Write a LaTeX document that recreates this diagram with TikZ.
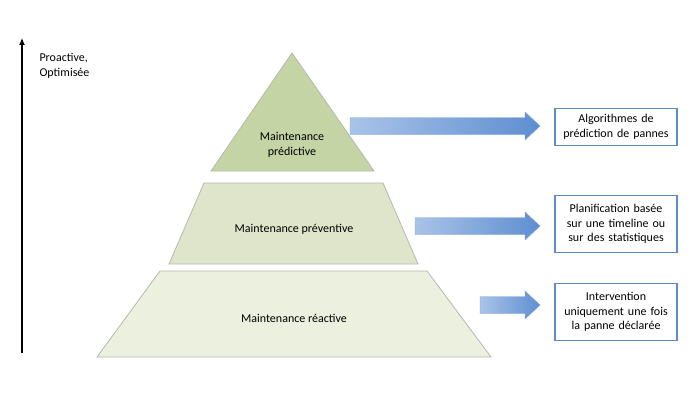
\documentclass[tikz,border=0pt]{standalone}
\usepackage{fontspec}
\setmainfont{Carlito}
\usetikzlibrary{positioning}
\usetikzlibrary{arrows.meta}

\definecolor{lvltop}{HTML}{C5D4A5}
\definecolor{lvlmid}{HTML}{DEE5CB}
\definecolor{lvlbot}{HTML}{ECF0DF}
\definecolor{edgegray}{HTML}{B4B9AC}
\definecolor{boxblue}{HTML}{5B8BC9}
\definecolor{arrowlight}{HTML}{A9C3E8}
\definecolor{arrowdark}{HTML}{5E8ED0}

% block arrow from x=#1 to x=#2 at height #3
\newcommand{\blockarrow}[3]{%
  \shade[left color=arrowlight, right color=arrowdark, draw=arrowdark!80, line width=0.4pt]
    (#1,#3-8.5) -- (#2-15,#3-8.5) -- (#2-15,#3-14) -- (#2,#3) -- (#2-15,#3+14)
    -- (#2-15,#3+8.5) -- (#1,#3+8.5) -- cycle;}

\begin{document}
\begin{tikzpicture}[x=1pt,y=-1pt]
\tikzset{
  level/.style={draw=edgegray, line width=0.8pt},
  lbl/.style={align=center, font=\fontsize{12}{14.5}\selectfont},
  goal/.style={draw=boxblue, line width=1.3pt, fill=white, align=center,
               text width=118pt, minimum height=37pt, inner sep=2pt,
               font=\fontsize{12}{14.5}\selectfont}
}
\useasboundingbox (0,0) rectangle (700,409);

% pyramid levels
\fill[lvlbot] (160,271) -- (427,271) -- (491,357) -- (97,357) -- cycle;
\draw[level] (160,271) -- (427,271) -- (491,357) -- (97,357) -- cycle;
\fill[lvlmid] (204,183) -- (383,183) -- (418,264) -- (169,264) -- cycle;
\draw[level] (204,183) -- (383,183) -- (418,264) -- (169,264) -- cycle;
\fill[lvltop] (292,53) -- (374,171) -- (211,171) -- cycle;
\draw[level] (292,53) -- (374,171) -- (211,171) -- cycle;

\node[lbl] (pred) at (292,145) {Maintenance\\prédictive};
\node[lbl] (prev) at (294,229) {Maintenance préventive};
\node[lbl] (reac) at (294,318) {Maintenance réactive};

% arrows
\blockarrow{350}{540}{126}
\blockarrow{415}{540}{226}
\blockarrow{480}{540}{305}

% goals
\node[goal] (gpred) at (616,127) {Algorithmes de\\prédiction de pannes};
\node[goal, minimum height=57pt] (gprev) at (616,224) {Planification basée\\sur une timeline ou\\sur des statistiques};
\node[goal, minimum height=57pt] (greac) at (616,312) {Intervention\\uniquement une fois\\la panne déclarée};

% scale
\coordinate (sbot) at (22,353);
\coordinate (stop) at (22,38);
\draw[-{Latex[length=7pt,width=6pt]}, line width=1.2pt] (sbot) -- (stop);
\node[lbl, align=left, anchor=north west] (scale) at (36,50) {Proactive,\\Optimisée};
\end{tikzpicture}
\end{document}
